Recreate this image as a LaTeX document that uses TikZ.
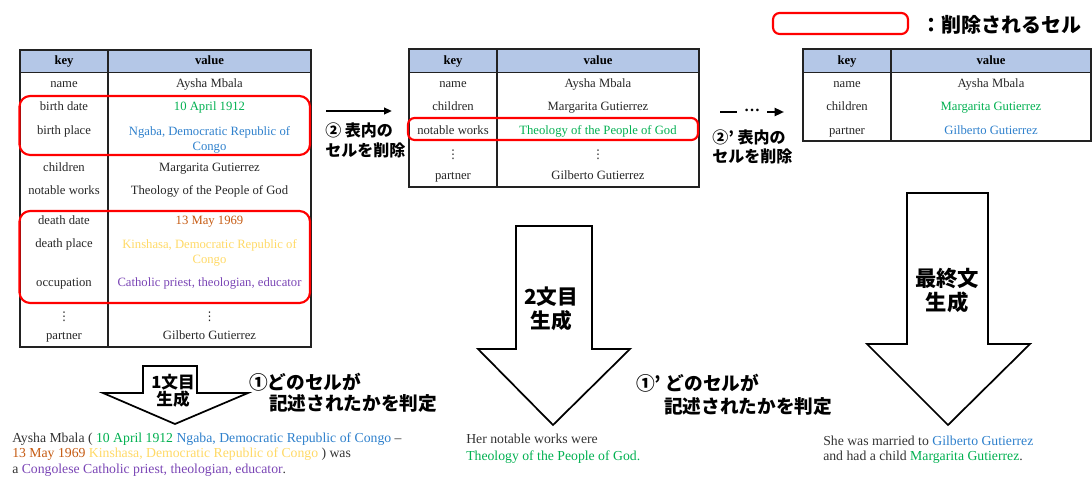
\documentclass[tikz,border=0pt]{standalone}
\usepackage{fontspec}
\setmainfont{Liberation Serif}
\newfontfamily\jp{Noto Sans CJK JP}
\newfontfamily\dvs{DejaVu Sans}
\usetikzlibrary{arrows.meta}
\definecolor{hdrblue}{HTML}{B4C7E7}
\definecolor{cgreen}{HTML}{00B050}
\definecolor{cblue}{HTML}{2E80CC}
\definecolor{corange}{HTML}{C55A11}
\definecolor{cyellow}{HTML}{FFD966}
\definecolor{cpurple}{HTML}{7A45B5}
\definecolor{tblline}{HTML}{222222}
\begin{document}
\begin{tikzpicture}[x=0.75pt,y=-0.75pt,
  tbl/.style={draw=tblline,line width=0.9pt},
  hdr/.style={fill=hdrblue},
  cellml/.style={inner sep=0pt,font=\fontsize{9.5}{11.25}\selectfont,align=center,text=black!85},
  cell/.style={inner sep=0pt,font=\fontsize{9.5}{11.25}\selectfont,text=black!85,text height=6.8pt,text depth=2pt},
  hcell/.style={inner sep=0pt,font=\fontsize{9.5}{11.25}\selectfont\bfseries,text height=6.8pt,text depth=2pt},
  vdot/.style={inner sep=0pt,font=\dvs\fontsize{9}{10}\selectfont,text=black!85},
  redbox/.style={draw=red,line width=1.6pt,rounded corners=8pt},
  blockarrow/.style={draw=black,fill=white,line width=1.3pt,line join=miter},
  jlab/.style={inner sep=0pt,font=\jp\bfseries\fontsize{12}{14.5}\selectfont,align=left},
  jbig/.style={inner sep=0pt,font=\jp\bfseries\fontsize{14}{16}\selectfont},
  sent/.style={inner sep=0pt,anchor=west,font=\fontsize{10.3}{12}\selectfont,text=black!80,text height=7pt,text depth=2pt},
  conn/.style={line width=1.6pt,-{Triangle[length=6pt,width=5pt]}}
]
\useasboundingbox (0,0) rectangle (1092,477);

% ---------- Legend ----------
\draw[redbox,rounded corners=5pt] (773,13) rectangle (908,34);
\node[inner sep=0pt,anchor=west,font=\jp\bfseries\fontsize{15}{17}\selectfont] (legend) at (921,25) {：削除されるセル};

% ---------- Table 1 ----------
\fill[hdr] (20,50) rectangle (311,72);
\draw[tbl,line width=0.5pt] (20,72) -- (311,72);
\draw[tbl] (20,50) rectangle (311,347);
\draw[tbl] (108,50) -- (108,347);
\node[hcell] (t1hk) at (64,61) {key};
\node[hcell] (t1hv) at (209.5,61) {value};
\node[cell] (t1k1) at (64,84) {name};
\node[cell] (t1v1) at (209.5,84) {Aysha Mbala};
\node[cell] (t1k2) at (64,107) {birth date};
\node[cell,text=cgreen] (t1v2) at (209.5,107) {10 April 1912};
\node[cell] (t1k3) at (64,131) {birth place};
\node[cellml,text=cblue] (t1v3) at (209.5,139.5) {Ngaba, Democratic Republic of\\Congo};
\node[cell] (t1k4) at (64,168) {children};
\node[cell] (t1v4) at (209.5,168) {Margarita Gutierrez};
\node[cell] (t1k5) at (64,191) {notable works};
\node[cell] (t1v5) at (209.5,191) {Theology of the People of God};
\node[cell] (t1k6) at (64,221) {death date};
\node[cell,text=corange] (t1v6) at (209.5,221) {13 May 1969};
\node[cell] (t1k7) at (64,244) {death place};
\node[cellml,text=cyellow] (t1v7) at (209.5,252.5) {Kinshasa, Democratic Republic of\\Congo};
\node[cell] (t1k8) at (64,283) {occupation};
\node[cell,text=cpurple] (t1v8) at (209.5,283) {Catholic priest, theologian, educator};
\node[vdot] (t1k9) at (64,317) {⋮};
\node[vdot] (t1v9) at (209.5,317) {⋮};
\node[cell] (t1k10) at (64,336) {partner};
\node[cell] (t1v10) at (209.5,336) {Gilberto Gutierrez};
\draw[redbox] (19.5,96) rectangle (310,155);
\draw[redbox] (19.5,211) rectangle (310,303);

% ---------- Arrow 1 ----------
\coordinate (a1s) at (326,111);
\coordinate (a1e) at (392,111);
\draw[conn] (a1s) -- (a1e);
\node[jlab,anchor=west] (lab2) at (325,140.5) {② 表内の\\セルを削除};

% ---------- Table 2 ----------
\fill[hdr] (409,49) rectangle (699,72);
\draw[tbl,line width=0.5pt] (409,72) -- (699,72);
\draw[tbl] (409,49) rectangle (699,187);
\draw[tbl] (497,49) -- (497,187);
\node[hcell] (t2hk) at (453,61) {key};
\node[hcell] (t2hv) at (598,61) {value};
\node[cell] (t2k1) at (453,84) {name};
\node[cell] (t2v1) at (598,84) {Aysha Mbala};
\node[cell] (t2k2) at (453,107) {children};
\node[cell] (t2v2) at (598,107) {Margarita Gutierrez};
\node[cell] (t2k3) at (453,131) {notable works};
\node[cell,text=cgreen] (t2v3) at (598,131) {Theology of the People of God};
\node[vdot] (t2k4) at (453,155) {⋮};
\node[vdot] (t2v4) at (598,155) {⋮};
\node[cell] (t2k5) at (453,176) {partner};
\node[cell] (t2v5) at (598,176) {Gilberto Gutierrez};
\draw[redbox,rounded corners=5pt] (408,118) rectangle (698,140);

% ---------- Arrow 2 ----------
\coordinate (a2s) at (720,112);
\coordinate (a2m) at (737,112);
\coordinate (a2n) at (767,112);
\coordinate (a2e) at (784,112);
\draw[line width=1.6pt] (a2s) -- (a2m);
\node[inner sep=0pt,font=\fontsize{12}{12}\selectfont\bfseries] (a2dots) at (752,110) {…};
\draw[line width=1.6pt,-{Triangle[length=7pt,width=6pt]}] (a2n) -- (a2e);
\node[jlab,anchor=west] (lab2p) at (712,147) {②’ 表内の\\セルを削除};

% ---------- Table 3 ----------
\fill[hdr] (803,49) rectangle (1091,72);
\draw[tbl,line width=0.5pt] (803,72) -- (1091,72);
\draw[tbl] (803,49) rectangle (1091,141);
\draw[tbl] (891,49) -- (891,141);
\node[hcell] (t3hk) at (847,61) {key};
\node[hcell] (t3hv) at (991,61) {value};
\node[cell] (t3k1) at (847,84) {name};
\node[cell] (t3v1) at (991,84) {Aysha Mbala};
\node[cell] (t3k2) at (847,107) {children};
\node[cell,text=cgreen] (t3v2) at (991,107) {Margarita Gutierrez};
\node[cell] (t3k3) at (847,131) {partner};
\node[cell,text=cblue] (t3v3) at (991,131) {Gilberto Gutierrez};

% ---------- Block arrows ----------
\draw[blockarrow] (143,366) -- (197,366) -- (197,393) -- (248,393) -- (175,424) -- (103,393) -- (143,393) -- cycle;
\node[inner sep=0pt,align=center,font=\jp\bfseries\fontsize{12.5}{13}\selectfont] (ba1) at (173,390.5) {1文目\\生成};

\draw[blockarrow] (516,226) -- (592,226) -- (592,349) -- (630,349) -- (553,425) -- (478,349) -- (516,349) -- cycle;
\node[inner sep=0pt,align=center,font=\jp\bfseries\fontsize{15.5}{18}\selectfont] (ba2) at (551,309) {2文目\\生成};

\draw[blockarrow] (907,193) -- (988,193) -- (988,344) -- (1030,344) -- (948,425) -- (867,344) -- (907,344) -- cycle;
\node[inner sep=0pt,align=center,font=\jp\bfseries\fontsize{16}{18}\selectfont] (ba3) at (947,291) {最終文\\生成};

% ---------- Judgement labels ----------
\node[jbig,anchor=west] (j1a) at (249,382) {①どのセルが};
\node[jbig,anchor=west] (j1b) at (269,403) {記述されたかを判定};
\node[jbig,anchor=west] (j2a) at (636,383) {①’ どのセルが};
\node[jbig,anchor=west] (j2b) at (664,406) {記述されたかを判定};

% ---------- Sentences ----------
\node[sent] (s1a) at (12,439) {Aysha Mbala ( \textcolor{cgreen}{10 April 1912} \textcolor{cblue}{Ngaba, Democratic Republic of Congo} –};
\node[sent] (s1b) at (12,454) {\textcolor{corange}{13 May 1969} \textcolor{cyellow}{Kinshasa, Democratic Republic of Congo} ) was};
\node[sent] (s1c) at (12,470) {a \textcolor{cpurple}{Congolese Catholic priest, theologian, educator}.};

\node[sent] (s2a) at (466,440) {Her notable works were};
\node[sent] (s2b) at (466,457) {\textcolor{cgreen}{Theology of the People of God.}};

\node[sent] (s3a) at (823,442) {She was married to \textcolor{cblue}{Gilberto Gutierrez}};
\node[sent] (s3b) at (823,457) {and had a child \textcolor{cgreen}{Margarita Gutierrez}.};
\end{tikzpicture}
\end{document}
